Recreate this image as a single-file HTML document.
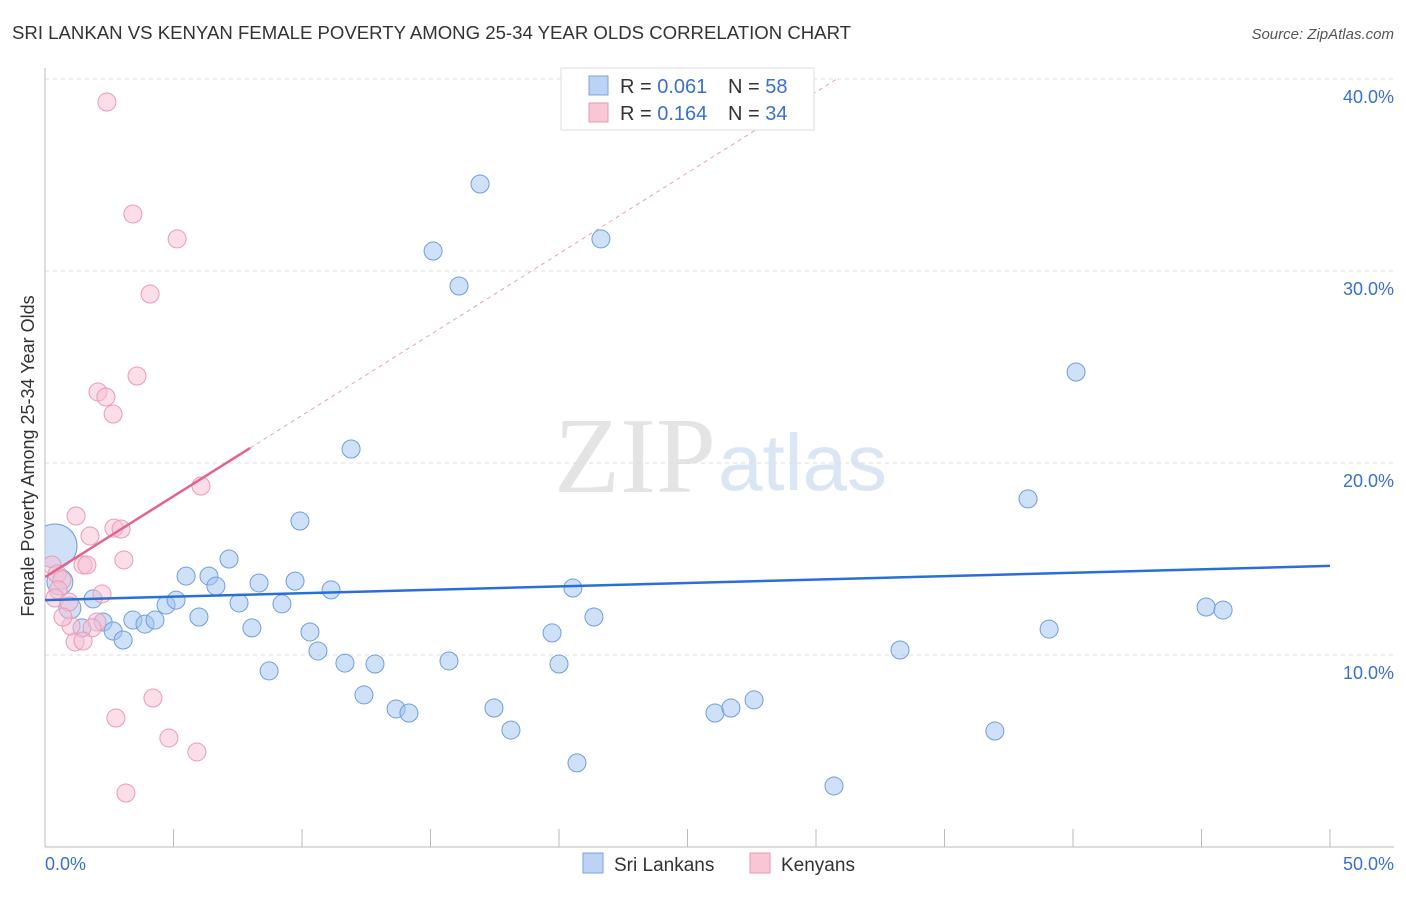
<!DOCTYPE html>
<html><head><meta charset="utf-8"><style>
body{margin:0;background:#fff;font-family:"Liberation Sans",sans-serif;}
</style></head><body>
<svg width="1406" height="892" xmlns="http://www.w3.org/2000/svg" style="font-family:'Liberation Sans',sans-serif">
<defs><clipPath id="plotclip"><rect x="45" y="60" width="1360" height="787"/></clipPath></defs>
<text x="12" y="39" font-size="18.6" fill="#333">SRI LANKAN VS KENYAN FEMALE POVERTY AMONG 25-34 YEAR OLDS CORRELATION CHART</text>
<text x="1394" y="39" font-size="15" fill="#555" font-style="italic" text-anchor="end">Source: ZipAtlas.com</text>
<text x="716" y="492" font-size="108" fill="#e4e4e4" text-anchor="end" font-family="Liberation Serif,serif">ZIP</text>
<text x="718" y="490" font-size="80" fill="#dbe6f5">atlas</text>
<g id="grid"></g>
<line x1="45" y1="68" x2="45" y2="847" stroke="#bbb"/>
<line x1="45" y1="847" x2="1394" y2="847" stroke="#bbb"/>
<text transform="translate(34,456) rotate(-90)" font-size="18" fill="#333" text-anchor="middle">Female Poverty Among 25-34 Year Olds</text>
<text x="45" y="870" font-size="18" fill="#3a70d0">0.0%</text>
<text x="1394" y="870" font-size="18" fill="#3a70d0" text-anchor="end">50.0%</text>
<g id="marks" clip-path="url(#plotclip)"></g>
<g>
<rect x="561" y="68" width="253" height="62" fill="#fff" stroke="#ddd"/>
<rect x="589" y="76" width="19" height="19" fill="#bcd3f5" stroke="#7aa3e0"/>
<rect x="589" y="103" width="19" height="19" fill="#f9c6d6" stroke="#e89ab3"/>
<text x="620" y="93" font-size="20" fill="#333">R = <tspan fill="#3a70d0">0.061</tspan></text>
<text x="728" y="93" font-size="20" fill="#333">N = <tspan fill="#3a70d0">58</tspan></text>
<text x="620" y="120" font-size="20" fill="#333">R = <tspan fill="#3a70d0">0.164</tspan></text>
<text x="728" y="120" font-size="20" fill="#333">N = <tspan fill="#3a70d0">34</tspan></text>
</g>
<g>
<rect x="583" y="853" width="20" height="20" fill="#bcd3f5" stroke="#7aa3e0"/>
<text x="614" y="871" font-size="19" fill="#333">Sri Lankans</text>
<rect x="750" y="853" width="20" height="20" fill="#f9c6d6" stroke="#e89ab3"/>
<text x="781" y="871" font-size="19" fill="#333">Kenyans</text>
</g>
</svg>
<script>
const yTicks=[10,20,30,40];
const yTickLabels=["10.0%","20.0%","30.0%","40.0%"];
const xTicks=[0,5,10,15,20,25,30,35,40,45,50];
const blueX=[0.39,0.58,0.97,1.87,1.44,2.26,2.65,3.04,3.42,3.89,4.28,4.71,5.10,5.49,5.99,6.38,6.65,7.16,7.55,8.05,8.33,8.72,9.22,9.73,9.92,10.31,10.62,11.13,11.67,11.91,12.41,12.84,13.66,14.16,15.10,15.72,16.11,16.93,17.47,18.13,19.73,20.00,20.54,20.70,21.36,21.63,26.07,26.69,27.59,30.70,33.27,36.96,38.25,39.07,40.12,45.18,45.84];
const blueY=[15.68,13.80,12.45,12.92,11.41,11.72,11.25,10.78,11.82,11.61,11.82,12.60,12.86,14.11,11.98,14.11,13.59,15.0,12.71,11.41,13.75,9.17,12.66,13.85,16.98,11.20,10.21,13.39,9.58,20.73,7.92,9.53,7.19,6.98,31.04,9.69,29.22,34.53,7.24,6.09,11.15,9.53,13.49,4.38,11.98,31.67,6.98,7.24,7.66,3.18,10.26,6.04,18.13,11.35,24.74,12.5,12.34];
const blueR=[22,13,11,9,9,9,9,9,9,9,9,9,9,9,9,9,9,9,9,9,9,9,9,9,9,9,9,9,9,9,9,9,9,9,9,9,9,9,9,9,9,9,9,9,9,9,9,9,9,9,9,9,9,9,9,9,9];
const pinkX=[2.41,3.42,5.14,4.09,3.58,2.06,2.37,2.65,6.07,1.21,1.75,2.68,2.96,3.07,1.48,1.63,0.27,0.47,0.66,0.51,0.39,0.93,2.22,2.02,1.01,1.83,1.17,1.48,2.76,4.20,4.82,5.91,3.15,0.70];
const pinkY=[38.8,32.97,31.67,28.8,24.53,23.7,23.44,22.55,18.8,17.24,16.2,16.61,16.56,14.95,14.69,14.69,14.69,14.22,13.91,13.39,12.97,12.76,13.18,11.72,11.51,11.41,10.68,10.73,6.72,7.76,5.68,4.95,2.81,11.98];
const blueTrend=[12.86,14.64];
const pinkTrend=[14.06,20.78,7.98];
const NS="http://www.w3.org/2000/svg";
const sx=v=>45+v*25.7, sy=v=>847-v*19.2;
function mk(tag,attrs,parent){const e=document.createElementNS(NS,tag);for(const k in attrs)e.setAttribute(k,attrs[k]);parent.appendChild(e);return e;}
const grid=document.getElementById('grid'), marks=document.getElementById('marks'), svg=document.querySelector('svg');
yTicks.forEach((t,i)=>{
 const l=mk('line',{x1:45,x2:1394,y1:sy(t),y2:sy(t),stroke:'#ddd','stroke-dasharray':'4,4'},grid);
 
 
 const tx=mk('text',{x:1394,y:sy(t)+24,'font-size':18,fill:'#3a70d0','text-anchor':'end'},svg);
 tx.textContent=yTickLabels[i];
 
 
});
xTicks.forEach(t=>{
 const l=mk('line',{x1:sx(t),x2:sx(t),y1:829,y2:847,stroke:'#bbb'},grid);
 
 
});
blueX.forEach((x,i)=>{
 const c=mk('circle',{cx:sx(x),cy:sy(blueY[i]),r:blueR[i],fill:'rgba(160,195,240,0.5)',stroke:'#6f9ddf','stroke-width':1},marks);
 
 
});
pinkX.forEach((x,i)=>{
 const c=mk('circle',{cx:sx(x),cy:sy(pinkY[i]),r:9,fill:'rgba(248,190,210,0.5)',stroke:'#ea9ab5','stroke-width':1},marks);
 
 
});
const slope=(pinkTrend[1]-pinkTrend[0])/pinkTrend[2];
const xEnd=(40-pinkTrend[0])/slope;
const d=mk('line',{x1:sx(pinkTrend[2]),y1:sy(pinkTrend[1]),x2:sx(xEnd),y2:sy(40),stroke:'#e8a0b8','stroke-dasharray':'4,4'},marks);


const pl=mk('line',{x1:sx(0),y1:sy(pinkTrend[0]),x2:sx(pinkTrend[2]),y2:sy(pinkTrend[1]),stroke:'#e4628c','stroke-width':2.5},marks);


const bl=mk('line',{x1:sx(0),y1:sy(blueTrend[0]),x2:sx(50),y2:sy(blueTrend[1]),stroke:'#2a6fd6','stroke-width':2.5},marks);


</script>
</body></html>
